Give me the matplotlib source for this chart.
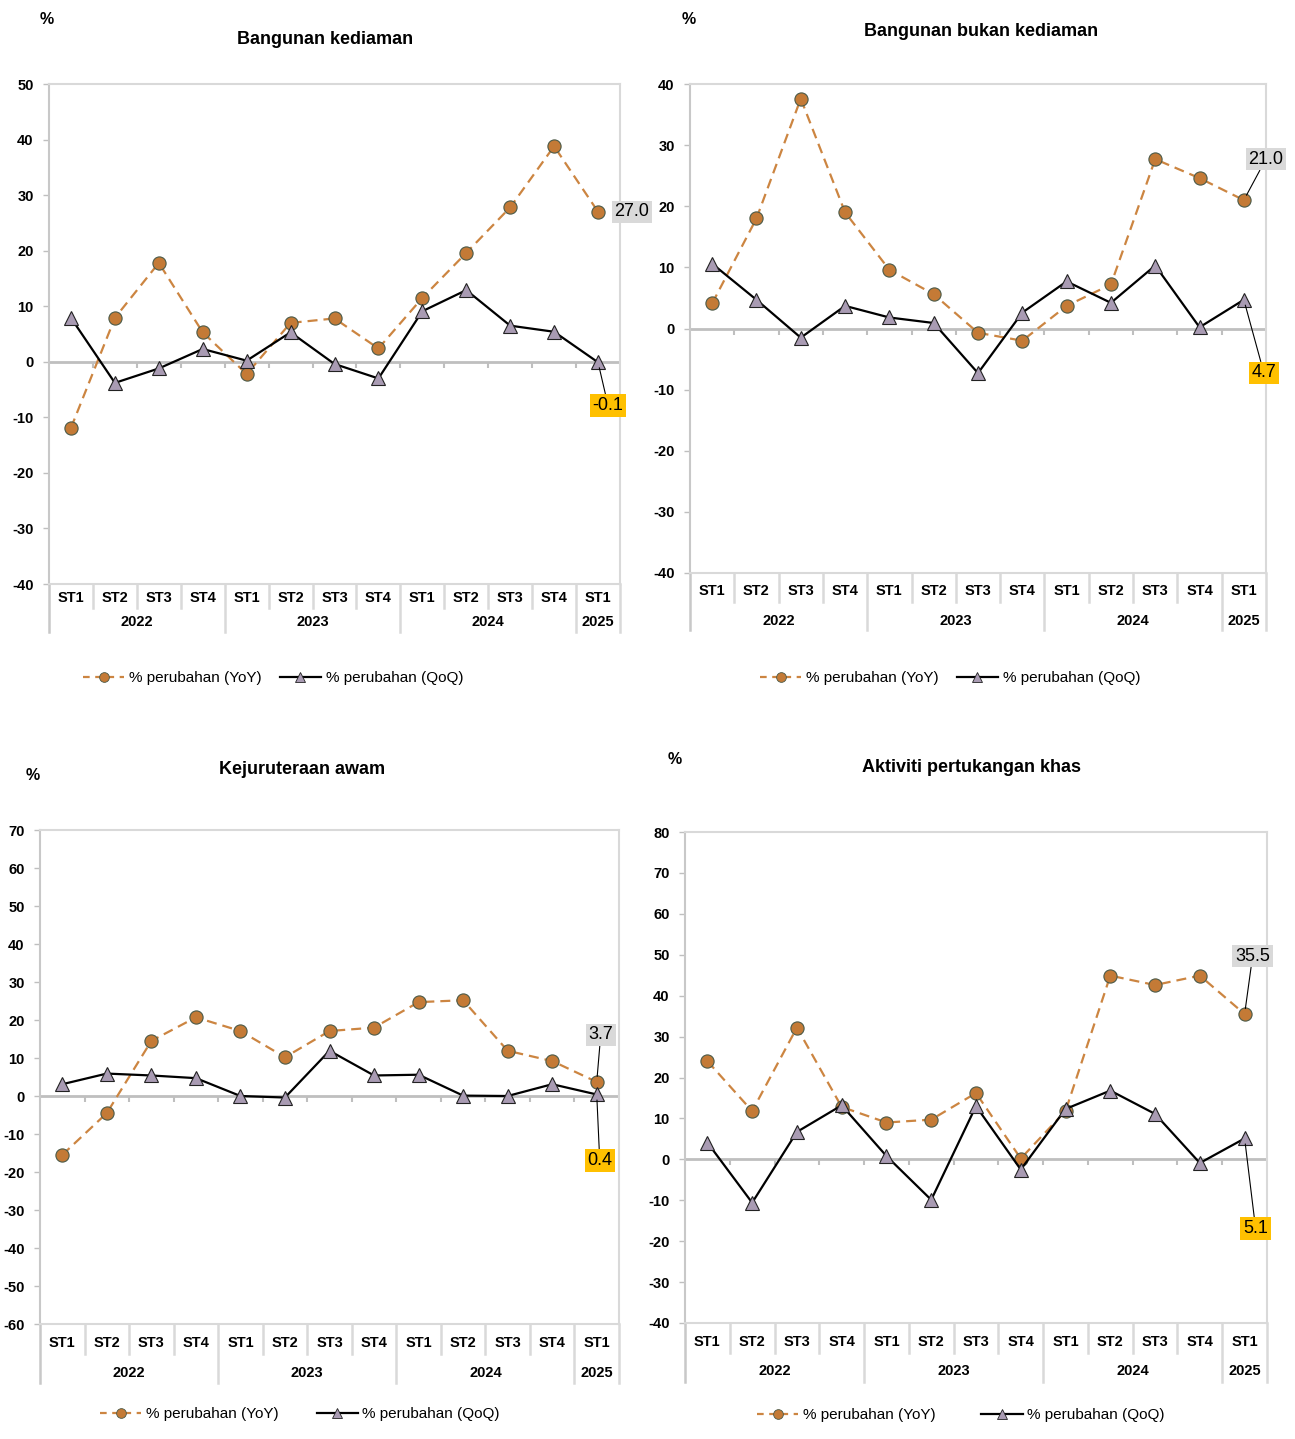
import numpy as np
import matplotlib.pyplot as plt
from matplotlib.lines import Line2D

plt.rcParams['font.family'] = ['Liberation Sans', 'DejaVu Sans']
plt.rcParams['axes.unicode_minus'] = False

# Category labels
quarters = ['ST1', 'ST2', 'ST3', 'ST4'] * 3 + ['ST1']
years = ['2022', '2023', '2024', '2025']
year_centers = [1.5, 5.5, 9.5, 12]

titles = ['Bangunan kediaman', 'Bangunan bukan kediaman',
          'Kejuruteraan awam', 'Aktiviti pertukangan khas']

# % change YoY / QoQ per panel
res_yoy = [-11.9, 7.9, 17.8, 5.3, -2.2, 7.0, 7.8, 2.4, 11.5, 19.6, 27.8, 38.8, 27.0]
res_qoq = [7.9, -3.8, -1.2, 2.3, 0.2, 5.3, -0.4, -3.0, 9.1, 12.9, 6.5, 5.4, -0.1]

nonres_yoy = [4.1, 18.0, 37.6, 19.0, 9.6, 5.6, -0.7, -2.0, 3.7, 7.2, 27.7, 24.6, 21.0]
nonres_qoq = [10.6, 4.7, -1.5, 3.7, 1.8, 0.9, -7.3, 2.6, 7.7, 4.2, 10.3, 0.2, 4.7]

civil_yoy = [-15.5, -4.5, 14.5, 20.7, 17.1, 10.2, 17.1, 18.0, 24.7, 25.2, 11.9, 9.2, 3.7]
civil_qoq = [3.1, 5.9, 5.4, 4.7, 0.0, -0.4, 11.9, 5.4, 5.6, 0.1, 0.0, 3.1, 0.4]

special_yoy = [24.0, 11.8, 32.2, 12.8, 9.0, 9.7, 16.2, 0.2, 11.8, 44.9, 42.6, 44.9, 35.5]
special_qoq = [4.1, -10.6, 6.7, 13.2, 0.8, -9.9, 13.0, -2.5, 12.3, 16.8, 11.1, -0.9, 5.1]

yoy_sets = [res_yoy, nonres_yoy, civil_yoy, special_yoy]
qoq_sets = [res_qoq, nonres_qoq, civil_qoq, special_qoq]
y_ranges = [(-40, 50), (-40, 40), (-60, 70), (-40, 80)]

W, H = 1295, 1439
fig = plt.figure(figsize=(W / 100, H / 100), dpi=100)


def fpos(x, y):
    return x / W, 1 - y / H


# layout in pixels: axes box (left, top, right, bottom)
boxes = [(49, 84, 620, 584), (690, 84, 1266, 573),
         (40, 830, 619, 1324), (685, 832, 1267, 1323)]
# label rows below the plot: ST row, year row, short sep, long sep (px)
rows = [(14, 38, 24, 48), (18, 48, 29, 57), (19, 49, 30, 59), (19, 48, 30, 59)]
title_pos = [(325, 39), (981, 32), (302, 770), (972, 768)]
pct_pos = [(47, 20), (689, 20), (33, 776), (675, 759)]
legend_pos = [(83, 678, 1.2), (760, 678, 1.2), (100, 1414, 2.5), (757, 1415, 3.0)]
# label boxes: (dx, dy) px from last point for YoY and QoQ
ann_off = [((34, 0), (10, 43)), ((22, -41), (20, 73)),
           ((4, -47), (3, 66)), ((8, -58), (11, 90))]

grey = '#D9D9D9'
yoy_col = '#CC8541'
x = np.arange(13)

for i in range(4):
    l, t, r, b = boxes[i]
    ax = fig.add_axes([l / W, 1 - b / H, (r - l) / W, (b - t) / H])
    hpx = b - t
    ymin, ymax = y_ranges[i]

    ax.axhline(0, color='#BFBFBF', lw=2, zorder=1)
    ax.plot(np.arange(0.5, 12.5), np.zeros(12), ls='none', marker=3, ms=4,
            mew=1.5, color='#BFBFBF', zorder=1)

    ax.plot(x, yoy_sets[i], color=yoy_col, lw=1.6, dashes=(4.5, 2.7),
            marker='o', ms=9.5, mfc='#C47A36', mec='#4B5A48', mew=0.8, zorder=3)
    ax.plot(x, qoq_sets[i], color='black', lw=1.6,
            marker='^', ms=9.5, mfc='#A99BB3', mec='#222222', mew=0.8, zorder=4)

    ax.set_xlim(-0.5, 12.5)
    ax.set_ylim(ymin, ymax)
    ax.set_yticks(np.arange(ymin, ymax + 1, 10))
    ax.set_xticks([])
    ax.tick_params(axis='y', length=4, width=1, color='#BFBFBF', pad=7, labelsize=10.5)
    for lab in ax.get_yticklabels():
        lab.set_fontweight('bold')
    for side in ['top', 'right', 'bottom']:
        ax.spines[side].set_color(grey)
        ax.spines[side].set_linewidth(1.5)
    ax.spines['left'].set_color('#C8C8C8')
    ax.spines['left'].set_linewidth(1.5)

    # category axis below plot
    st_dy, yr_dy, s_dy, l_dy = rows[i]
    tr = ax.get_xaxis_transform()
    for k, q in enumerate(quarters):
        ax.text(k, -st_dy / hpx, q, transform=tr, ha='center', va='center',
                fontsize=10.5, fontweight='bold')
    for yc, yl in zip(year_centers, years):
        ax.text(yc, -yr_dy / hpx, yl, transform=tr, ha='center', va='center',
                fontsize=10.5, fontweight='bold')
    for k in range(14):
        xb = k - 0.5
        long_sep = xb in (-0.5, 3.5, 7.5, 11.5, 12.5)
        dy = l_dy if long_sep else s_dy
        col = '#C8C8C8' if xb == -0.5 else grey
        ax.plot([xb, xb], [0, -dy / hpx], transform=tr, color=col, lw=1.8,
                clip_on=False, zorder=2)

    # value labels on last point
    (dx1, dy1), (dx2, dy2) = ann_off[i]
    v1 = yoy_sets[i][-1]
    v2 = qoq_sets[i][-1]
    arrow = dict(arrowstyle='-', color='black', lw=0.8, shrinkA=0, shrinkB=4)
    ax.annotate(f'{v1:.1f}', xy=(12, v1), xytext=(dx1 * 0.72, -dy1 * 0.72),
                textcoords='offset points', ha='center', va='center', fontsize=13,
                bbox=dict(boxstyle='square,pad=0.15', fc='#D9D9D9', ec='none'),
                arrowprops=arrow if dy1 != 0 else None,
                annotation_clip=False, zorder=6)
    ax.annotate(f'{v2:.1f}', xy=(12, v2), xytext=(dx2 * 0.72, -dy2 * 0.72),
                textcoords='offset points', ha='center', va='center', fontsize=13,
                bbox=dict(boxstyle='square,pad=0.15', fc='#FFC000', ec='none'),
                arrowprops=arrow,
                annotation_clip=False, zorder=6)

    fig.text(*fpos(*title_pos[i]), titles[i], ha='center', va='center',
             fontsize=13, fontweight='bold')
    fig.text(*fpos(*pct_pos[i]), '%', ha='center', va='center',
             fontsize=11.5, fontweight='bold')

    lx, ly, cs = legend_pos[i]
    h_yoy = Line2D([], [], color=yoy_col, lw=1.6, dashes=(3, 2.5), marker='o',
                   ms=7, mfc='#C47A36', mec='#4B5A48', mew=0.6)
    h_qoq = Line2D([], [], color='black', lw=1.6, marker='^', ms=7,
                   mfc='#A99BB3', mec='#222222', mew=0.6)
    fig.legend([h_yoy, h_qoq], ['% perubahan (YoY)', '% perubahan (QoQ)'],
               loc='center left', bbox_to_anchor=fpos(lx, ly), ncol=2,
               frameon=False, fontsize=11, handlelength=2.7, handletextpad=0.3,
               columnspacing=cs, borderpad=0, borderaxespad=0)

fig.savefig('out.png', dpi=100)
